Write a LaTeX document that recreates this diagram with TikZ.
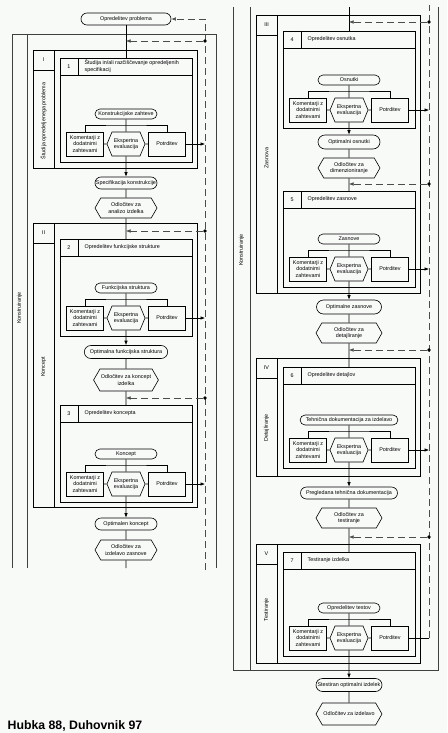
\documentclass[tikz,border=0pt]{standalone}
\usepackage{fontspec}
\setmainfont{Liberation Sans}
\usepackage{tikz}
\usetikzlibrary{shapes.misc,shapes.symbols,arrows.meta,calc}
\definecolor{ozadje}{RGB}{248,250,248}
\tikzstyle{okvir}=[draw=black!75, line width=0.6pt]
\tikzstyle{rez}=[rounded rectangle, draw, minimum width=72pt, minimum height=12pt, inner xsep=5pt, inner ysep=1pt]
\tikzstyle{kom}=[rectangle, draw, minimum width=37pt, minimum height=24pt, inner sep=1pt, align=center]
\tikzstyle{eks}=[signal, signal to=east and west, signal pointer angle=135, draw, minimum width=38pt, minimum height=24pt, inner sep=1pt, align=center]
\tikzstyle{odl}=[signal, signal to=east and west, signal pointer angle=120, draw, minimum width=62pt, minimum height=20pt, inner sep=1pt, align=center]
\tikzstyle{povratna}=[draw=black!70, line width=0.5pt, dash pattern=on 7pt off 4pt]
\tikzstyle{tocka}=[circle, fill, inner sep=0pt, minimum size=3.6pt]
\newcommand{\faza}[7]{
\draw (#2-93,#3) rectangle (#2+71,#4);
\draw (#2-72,#3) -- (#2-72,#4);
\draw (#2-93,#3+20) -- (#2-72,#3+20);
\node (#1-n) at (#2-82.5,#3+10) {#5};
\node[rotate=90] (#1-l) at (#2-82.5,#7) {#6};
}
\newcommand{\korak}[7]{
\coordinate (#1-top) at (#2,#3);
\draw (#2-66,#3) rectangle (#2+66,#4);
\draw (#2-66,#3+17) -- (#2+66,#3+17);
\draw (#2-48,#3) -- (#2-48,#3+17);
\node (#1-n) at (#2-57,#3+8.5) {#5};
\node[anchor=west,align=left] (#1-h) at (#2-45,#3+8.5) {#6};
\node[rez,minimum height=10pt] (#1-r) at (#2,#4-48) {#7};
\node[kom] (#1-k) at (#2-41,#4-18) {Komentarji z\\dodatnimi\\zahtevami};
\node[eks] (#1-e) at (#2,#4-18) {Ekspertna\\evaluacija};
\node[kom] (#1-p) at (#2+41,#4-18) {Potrditev};
\coordinate (#1-t) at (#2,#4-37);
\draw (#1-r) -- (#1-e);
\draw (#1-k) |- (#1-t) -| (#1-p);
\draw (#1-k) -- (#1-e) -- (#1-p);
}

\begin{document}
\begin{tikzpicture}[x=1pt,y=-1pt,line width=0.6pt,>={Latex[length=4.5pt,width=3.5pt]},font=\fontsize{5.4}{6.6}\selectfont]
\fill[ozadje] (0,0) rectangle (447,733);
\useasboundingbox (0,0) rectangle (447,733);
% okvir konstruiranja
\draw[okvir] (12,568) -- (12,34) -- (216,34) -- (216,568);
\draw[okvir] (27,34) -- (27,568);
\draw[okvir] (233,7) -- (233,670) -- (438,670) -- (438,7);
\draw[okvir] (250,7) -- (250,670);
\node[rotate=90] (kon-l) at (19.5,308) {Konstruiranje};
\node[rotate=90] (kon-d) at (241.5,250) {Konstruiranje};
% faze in koraki
\faza{f1}{126}{50}{168}{I}{Študija opredeljenega problema}{121}
\korak{s1}{126}{58}{162}{1}{Študija in/ali razčiščevanje opredeljenih\\specifikacij}{Konstrukcijske zahteve}
\faza{f2}{126}{223}{507}{II}{Koncept}{367}
\korak{s2}{126}{239}{336}{2}{Opredelitev funkcijske strukture}{Funkcijska struktura}
\korak{s3}{126}{405}{502}{3}{Opredelitev koncepta}{Koncept}
\faza{f3}{349}{15}{293}{III}{Zasnova}{158}
\korak{s4}{349}{31}{128}{4}{Opredelitev osnutka}{Osnutki}
\korak{s5}{349}{191}{287}{5}{Opredelitev zasnove}{Zasnove}
\faza{f4}{349}{358}{476}{IV}{Detajliranje}{428}
\korak{s6}{349}{367}{468}{6}{Opredelitev detajlov}{Tehnična dokumentacija za izdelavo}
\faza{f5}{349}{544}{663}{V}{Testiranje}{610}
\korak{s7}{349}{552}{656}{7}{Testiranje izdelka}{Opredelitev testov}
% glavni tok
\node[rez,minimum width=100pt] (problem) at (126,19) {Opredelitev problema};
\node[rez] (spec) at (126,183) {Specifikacija konstrukcije};
\node[odl] (odl1) at (126,208) {Odločitev za\\analizo izdelka};
\node[rez,minimum height=13pt] (ofs) at (126,352) {Optimalna funkcijska struktura};
\node[odl,minimum width=64pt,minimum height=22pt] (odl2) at (126,380) {Odločitev za koncept\\izdelka};
\node[rez] (okon) at (126,524) {Optimalen koncept};
\node[odl] (odl3) at (126,550) {Odločitev za\\izdelavo zasnove};
\coordinate (lbot) at (126,568);
\coordinate (rtop) at (349,7);
\node[rez,minimum height=14pt] (oosn) at (349,142) {Optimalni osnutki};
\node[odl] (odl4) at (349,168) {Odločitev za\\dimenzioniranje};
\node[rez,minimum width=75pt,minimum height=14pt] (ozas) at (349,307) {Optimalne zasnove};
\node[odl,minimum width=66pt] (odl5) at (349,333) {Odločitev za\\detajliranje};
\node[rez] (ptd) at (349,493) {Pregledana tehnična dokumentacija};
\node[odl,minimum width=66pt] (odl6) at (349,518) {Odločitev za\\testiranje};
\node[rez,minimum width=76pt,minimum height=13pt] (sto) at (349,685) {Stestiran optimalni izdelek};
\node[odl,minimum width=66pt,minimum height=22pt] (odl7) at (349,714) {Odločitev za izdelavo};
\draw (problem) -- (s1-top);
\draw[->] (s1-e) -- (spec);
\draw (spec) -- (odl1) -- (s2-top);
\draw[->] (s2-e) -- (ofs);
\draw (ofs) -- (odl2) -- (s3-top);
\draw[->] (s3-e) -- (okon);
\draw (okon) -- (odl3) -- (lbot);
\draw (rtop) -- (s4-top);
\draw[->] (s4-e) -- (oosn);
\draw (oosn) -- (odl4) -- (s5-top);
\draw[->] (s5-e) -- (ozas);
\draw (ozas) -- (odl5) -- (s6-top);
\draw[->] (s6-e) -- (ptd);
\draw (ptd) -- (odl6) -- (s7-top);
\draw[->] (s7-e) -- (sto);
\draw (sto) -- (odl7);
% povratne zanke
\coordinate (fbL) at (205,570);
\coordinate (fbR) at (429,638);
\coordinate (fbR-top) at (429,5);
\draw[povratna,->] (fbL) |- (problem);
\draw[povratna] (fbR) -- (fbR-top);
\foreach \y/\s in {41/s1,231/s2,398/s3} {
  \node[tocka] (d-\s) at (205,\y) {};
  \draw[povratna,->] (d-\s) -- (d-\s -| \s-top);
  \draw[->] (\s-p) -- (\s-p -| fbL);
}
\foreach \y/\s in {22/s4,184/s5,350/s6,537/s7} {
  \node[tocka] (d-\s) at (429,\y) {};
  \draw[povratna,->] (d-\s) -- (d-\s -| \s-top);
}
\foreach \s in {s4,s5,s6} \draw[->] (\s-p) -- (\s-p -| fbR);
\draw[line width=0.5pt] (s7-p) -- (fbR);
\node[anchor=base west,font=\fontsize{12.3}{14}\selectfont\bfseries] (vir) at (4,729) {Hubka 88, Duhovnik 97};
\end{tikzpicture}
\end{document}
